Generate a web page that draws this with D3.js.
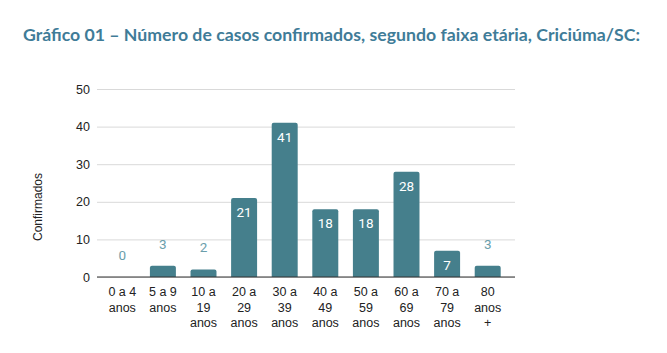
<!DOCTYPE html>
<html>
<head>
<meta charset="utf-8">
<script src="https://cdn.jsdelivr.net/npm/d3@7"></script>
<style>
  body { margin: 0; background: #fff; }
</style>
</head>
<body>
<div id="chart"></div>
<script>
const faixas = [
  ['0 a 4', 'anos'],
  ['5 a 9', 'anos'],
  ['10 a', '19', 'anos'],
  ['20 a', '29', 'anos'],
  ['30 a', '39', 'anos'],
  ['40 a', '49', 'anos'],
  ['50 a', '59', 'anos'],
  ['60 a', '69', 'anos'],
  ['70 a', '79', 'anos'],
  ['80', 'anos', '+']
];
const confirmados = [0, 3, 2, 21, 41, 18, 18, 28, 7, 3];
const yTicks = [0, 10, 20, 30, 40, 50];

const W = 667, H = 353;
const margin = {top: 89, right: 152, bottom: 76, left: 97};
const plotW = W - margin.left - margin.right;
const plotH = H - margin.top - margin.bottom;

const svg = d3.select('#chart')
    .append('svg')
    .attr('width', W)
    .attr('height', H);

// titulo
svg.append('text')
    .attr('x', 23)
    .attr('y', 41)
    .attr('textLength', 617)
    .attr('lengthAdjust', 'spacingAndGlyphs')
    .attr('fill', '#3f7c98')
    .style('font-family', 'Lato, "Open Sans", sans-serif')
    .style('font-weight', 'bold')
    .style('font-size', '17.5px')
    .text('Gráfico 01 – Número de casos confirmados, segundo faixa etária, Criciúma/SC:');

const g = svg.append('g')
    .attr('transform', `translate(${margin.left},${margin.top})`);

const idx = d3.range(confirmados.length);

const x = d3.scaleBand()
    .domain(idx)
    .range([5, 411])
    .paddingInner(0.36)
    .paddingOuter(0.18);

const y = d3.scaleLinear()
    .domain([0, 50])
    .range([plotH, 0]);

// grade + rotulos do eixo y
const yAxis = g.append('g')
    .call(d3.axisLeft(y).tickValues(yTicks).tickSize(-plotW).tickPadding(7));
yAxis.select('.domain').remove();
yAxis.selectAll('.tick line').attr('stroke', '#d9d9d9');
yAxis.selectAll('.tick text')
    .attr('fill', '#222')
    .style('font-family', '"Liberation Sans", Arial, sans-serif')
    .style('font-size', '12.5px');

g.append('text')
    .attr('transform', `translate(-55,${plotH / 2 + 24}) rotate(-90)`)
    .attr('text-anchor', 'middle')
    .attr('fill', '#222')
    .style('font-family', '"Liberation Sans", Arial, sans-serif')
    .style('font-size', '12px')
    .text('Confirmados');

// barras
const r = 2;
g.selectAll('path.bar')
    .data(confirmados)
    .enter()
    .append('path')
    .attr('class', 'bar')
    .attr('fill', '#457f8c')
    .attr('d', (d, i) => {
      if (d === 0) return '';
      const x0 = x(i), x1 = x(i) + x.bandwidth(), y0 = y(0), y1 = y(d);
      return `M${x0},${y0}V${y1 + r}Q${x0},${y1} ${x0 + r},${y1}H${x1 - r}Q${x1},${y1} ${x1},${y1 + r}V${y0}Z`;
    });

// linha base
g.append('line')
    .attr('x1', 0)
    .attr('x2', plotW)
    .attr('y1', y(0))
    .attr('y2', y(0))
    .attr('stroke', '#333')
    .attr('stroke-width', 1.2);

// valores
g.selectAll('text.val')
    .data(confirmados)
    .enter()
    .append('text')
    .attr('class', 'val')
    .attr('x', (d, i) => x(i) + x.bandwidth() / 2)
    .attr('y', d => d >= 7 ? y(d) + 19 : y(d) - 17)
    .attr('text-anchor', 'middle')
    .attr('fill', d => d >= 7 ? '#ffffff' : '#6b9eab')
    .style('font-family', 'Roboto, sans-serif')
    .style('font-size', '13.5px')
    .text(d => d);

// rotulos do eixo x
const xl = g.selectAll('text.cat')
    .data(faixas)
    .enter()
    .append('text')
    .attr('class', 'cat')
    .attr('text-anchor', 'middle')
    .attr('fill', '#222')
    .style('font-family', '"Liberation Sans", Arial, sans-serif')
    .style('font-size', '12.5px')
    .attr('transform', (d, i) => `translate(${x(i) + x.bandwidth() / 2},${y(0) + 19})`);

xl.selectAll('tspan')
    .data(d => d)
    .enter()
    .append('tspan')
    .attr('x', 0)
    .attr('y', (d, j) => j * 15.5)
    .text(d => d);
</script>
</body>
</html>
